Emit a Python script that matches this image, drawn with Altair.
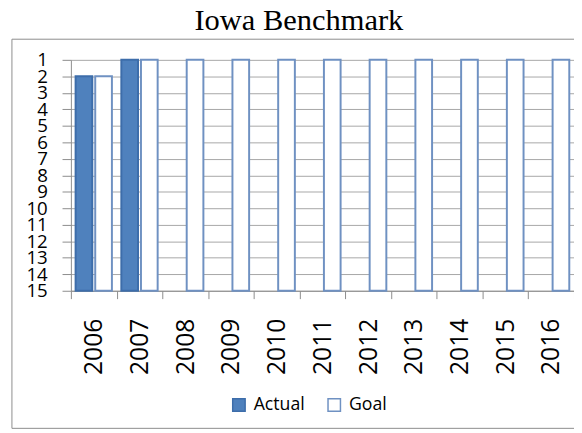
import altair as alt
import pandas as pd

years = ["2006", "2007", "2008", "2009", "2010", "2011", "2012", "2013", "2014", "2015", "2016"]
actual = [2, 1, None, None, None, None, None, None, None, None, None]
goal = [2, 1, 1, 1, 1, 1, 1, 1, 1, 1, 1]
series = ["Actual", "Goal"]
y_ticks = [1, 2, 3, 4, 5, 6, 7, 8, 9, 10, 11, 12, 13, 14, 15]
baseline = 15

rows = []
for yr, a, g in zip(years, actual, goal):
    if a is not None:
        rows.append({"year": yr, "series": "Actual", "value": a, "base": baseline})
    if g is not None:
        rows.append({"year": yr, "series": "Goal", "value": g, "base": baseline})
df = pd.DataFrame(rows)

legend = alt.Legend(
    orient="none", legendX=162, legendY=342, direction="horizontal", title=None,
    symbolType="square", symbolSize=160, symbolStrokeWidth=1.5,
    labelFont="Open Sans", labelFontSize=18, labelColor="#000000",
    labelOffset=6, columnPadding=19,
)

bars = alt.Chart(df).mark_bar(strokeWidth=2).encode(
    x=alt.X("year:N", sort=years, title=None,
            scale=alt.Scale(paddingInner=0, paddingOuter=0),
            axis=alt.Axis(labelAngle=-90, labelFont="Open Sans", labelFontSize=25,
                          labelColor="#000000", tickBand="extent", tickSize=8,
                          labelPadding=20, domainColor="#8C8C8C", tickColor="#8C8C8C",
                          grid=False)),
    xOffset=alt.XOffset("series:N", sort=series,
                        scale=alt.Scale(paddingInner=0.15, paddingOuter=0.24)),
    y=alt.Y("value:Q", title=None,
            scale=alt.Scale(domain=[1, 15], reverse=True, nice=False, zero=False),
            axis=alt.Axis(values=y_ticks, labelOverlap=False, labelFlush=False,
                          tickSize=9, labelPadding=15, labelFont="Open Sans",
                          labelFontSize=19, labelColor="#000000",
                          domainColor="#8C8C8C", tickColor="#8C8C8C",
                          gridColor="#A6A6A6")),
    y2="base:Q",
    fill=alt.Fill("series:N", scale=alt.Scale(domain=series, range=["#4F81BD", "#FFFFFF"]),
                  legend=legend),
    stroke=alt.Stroke("series:N", scale=alt.Scale(domain=series, range=["#3D6DAA", "#6F91C2"]),
                      legend=legend),
)

border = alt.Chart(pd.DataFrame({"a": [0]})).mark_rect(
    filled=False, stroke="#8C8C8C", strokeWidth=1
).encode(x=alt.value(-60), x2=alt.value(540), y=alt.value(-21), y2=alt.value(375))

title = alt.Chart(pd.DataFrame({"t": ["Iowa Benchmark"]})).mark_text(
    font="Liberation Serif", fontSize=31, color="#000000", align="center", baseline="alphabetic"
).encode(text="t:N", x=alt.value(232), y=alt.value(-30))

chart = alt.layer(border, bars, title).properties(
    width=512, height=235,
    autosize=alt.AutoSizeParams(type="none"),
    padding={"left": 64, "top": 49, "right": 0, "bottom": 141},
    background="#FFFFFF",
).configure_view(stroke=None)

chart.save("out.html", embed_options={"renderer": "svg", "actions": False})
